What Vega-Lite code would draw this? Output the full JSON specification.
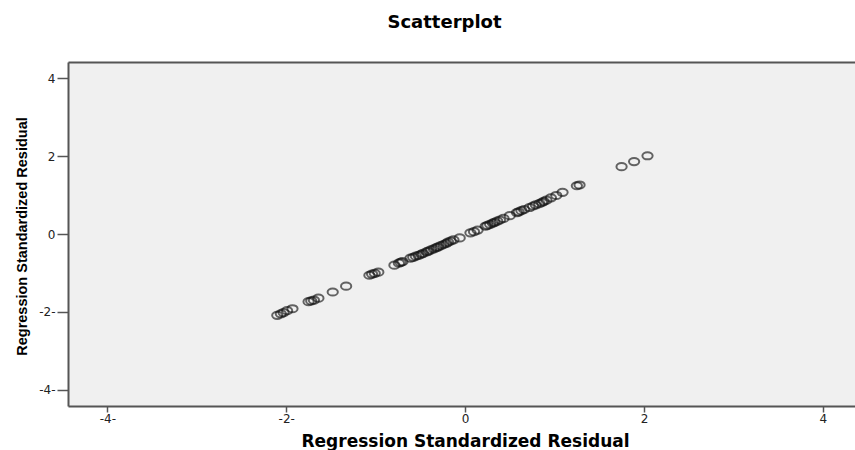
{
  "$schema": "https://vega.github.io/schema/vega-lite/v6.json",
  "width": 787,
  "height": 344,
  "autosize": {"type": "none"},
  "padding": {"left": 68, "top": 62, "right": 0, "bottom": 44},
  "background": "white",
  "title": {
    "text": "Scatterplot",
    "font": "DejaVu Sans",
    "fontSize": 18,
    "fontWeight": "bold",
    "color": "#000000",
    "anchor": "middle",
    "frame": "group",
    "baseline": "alphabetic",
    "offset": 16,
    "dx": -17
  },
  "config": {
    "view": {"fill": "#f0f0f0", "stroke": null}
  },
  "data": {
    "values": [
      {"x": -2.10, "y": -2.09},
      {"x": -2.06, "y": -2.05},
      {"x": -2.03, "y": -2.02},
      {"x": -1.99, "y": -1.97},
      {"x": -1.93, "y": -1.92},
      {"x": -1.75, "y": -1.74},
      {"x": -1.72, "y": -1.72},
      {"x": -1.69, "y": -1.70},
      {"x": -1.64, "y": -1.65},
      {"x": -1.48, "y": -1.49},
      {"x": -1.33, "y": -1.34},
      {"x": -1.07, "y": -1.06},
      {"x": -1.04, "y": -1.03},
      {"x": -1.01, "y": -1.01},
      {"x": -0.97, "y": -0.98},
      {"x": -0.79, "y": -0.80},
      {"x": -0.74, "y": -0.75},
      {"x": -0.72, "y": -0.73},
      {"x": -0.70, "y": -0.71},
      {"x": -0.61, "y": -0.62},
      {"x": -0.58, "y": -0.60},
      {"x": -0.55, "y": -0.57},
      {"x": -0.52, "y": -0.55},
      {"x": -0.49, "y": -0.52},
      {"x": -0.47, "y": -0.50},
      {"x": -0.43, "y": -0.46},
      {"x": -0.41, "y": -0.44},
      {"x": -0.38, "y": -0.41},
      {"x": -0.35, "y": -0.38},
      {"x": -0.32, "y": -0.35},
      {"x": -0.30, "y": -0.33},
      {"x": -0.27, "y": -0.30},
      {"x": -0.24, "y": -0.27},
      {"x": -0.21, "y": -0.24},
      {"x": -0.19, "y": -0.21},
      {"x": -0.16, "y": -0.18},
      {"x": -0.13, "y": -0.15},
      {"x": -0.06, "y": -0.10},
      {"x": 0.06, "y": 0.03},
      {"x": 0.10, "y": 0.06},
      {"x": 0.14, "y": 0.10},
      {"x": 0.23, "y": 0.20},
      {"x": 0.25, "y": 0.22},
      {"x": 0.28, "y": 0.25},
      {"x": 0.31, "y": 0.28},
      {"x": 0.33, "y": 0.30},
      {"x": 0.36, "y": 0.33},
      {"x": 0.39, "y": 0.36},
      {"x": 0.43, "y": 0.40},
      {"x": 0.50, "y": 0.47},
      {"x": 0.58, "y": 0.55},
      {"x": 0.60, "y": 0.57},
      {"x": 0.63, "y": 0.60},
      {"x": 0.66, "y": 0.63},
      {"x": 0.72, "y": 0.68},
      {"x": 0.76, "y": 0.72},
      {"x": 0.79, "y": 0.75},
      {"x": 0.83, "y": 0.78},
      {"x": 0.86, "y": 0.81},
      {"x": 0.88, "y": 0.84},
      {"x": 0.91, "y": 0.87},
      {"x": 0.96, "y": 0.93},
      {"x": 1.02, "y": 0.99},
      {"x": 1.09, "y": 1.07},
      {"x": 1.25, "y": 1.24},
      {"x": 1.28, "y": 1.26},
      {"x": 1.75, "y": 1.73},
      {"x": 1.89, "y": 1.86},
      {"x": 2.04, "y": 2.01}
    ]
  },
  "layer": [
    {
      "mark": {
        "type": "point",
        "shape": "M-1,0A1,0.7,0,1,1,1,0A1,0.7,0,1,1,-1,0Z",
        "size": 105,
        "filled": false,
        "stroke": "#111111",
        "strokeWidth": 2,
        "strokeOpacity": 0.9
      },
      "encoding": {
        "x": {
          "field": "x",
          "type": "quantitative",
          "scale": {"domain": [-4.44, 4.36], "nice": false, "zero": false},
          "axis": {
            "orient": "bottom",
            "values": [-4, -2, 0, 2, 4],
            "labelExpr": "datum.value < 0 ? '-' + abs(datum.value) + '-' : '' + datum.value",
            "grid": false,
            "domain": true,
            "domainColor": "#555555",
            "domainWidth": 2,
            "ticks": true,
            "tickColor": "#555555",
            "tickWidth": 1.5,
            "tickSize": 6,
            "labelFont": "DejaVu Sans",
            "labelFontSize": 12,
            "labelColor": "#222222",
            "labelPadding": 1,
            "title": "Regression Standardized Residual",
            "titleFont": "DejaVu Sans",
            "titleFontSize": 17,
            "titleFontWeight": "bold",
            "titleColor": "#000000",
            "titleBaseline": "alphabetic",
            "titleX": 397,
            "titleY": 40
          }
        },
        "y": {
          "field": "y",
          "type": "quantitative",
          "scale": {"domain": [-4.42, 4.42], "nice": false, "zero": false},
          "axis": {
            "orient": "left",
            "values": [-4, -2, 0, 2, 4],
            "labelExpr": "datum.value < 0 ? '-' + abs(datum.value) + '-' : '' + datum.value",
            "grid": false,
            "domain": true,
            "domainColor": "#555555",
            "domainWidth": 2,
            "ticks": true,
            "tickColor": "#555555",
            "tickWidth": 1.5,
            "tickSize": 11,
            "labelFont": "DejaVu Sans",
            "labelFontSize": 12,
            "labelColor": "#222222",
            "labelPadding": 2,
            "title": "Regression Standardized Residual",
            "titleFont": "Liberation Sans",
            "titleFontSize": 14.5,
            "titleFontWeight": "bold",
            "titleColor": "#000000",
            "titleAngle": -90,
            "titleBaseline": "alphabetic",
            "titleX": -42,
            "titleY": 174
          }
        }
      }
    },
    {
      "mark": {"type": "point", "opacity": 0},
      "encoding": {
        "x": {
          "field": "x",
          "type": "quantitative",
          "axis": {
            "orient": "top",
            "labels": false,
            "ticks": false,
            "grid": false,
            "title": null,
            "domain": true,
            "domainColor": "#555555",
            "domainWidth": 2
          }
        },
        "y": {"field": "y", "type": "quantitative", "axis": null}
      }
    }
  ],
  "resolve": {"axis": {"x": "independent", "y": "independent"}}
}
